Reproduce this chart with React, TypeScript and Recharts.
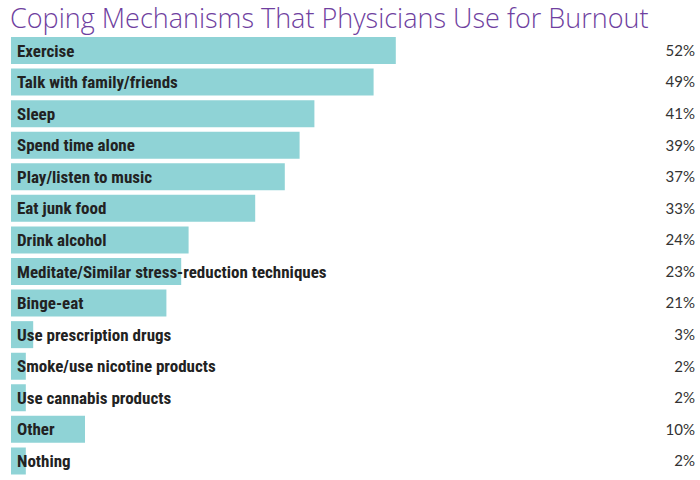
import { BarChart, Bar, XAxis, YAxis, LabelList } from 'recharts';

const categories = [
  'Exercise',
  'Talk with family/friends',
  'Sleep',
  'Spend time alone',
  'Play/listen to music',
  'Eat junk food',
  'Drink alcohol',
  'Meditate/Similar stress-reduction techniques',
  'Binge-eat',
  'Use prescription drugs',
  'Smoke/use nicotine products',
  'Use cannabis products',
  'Other',
  'Nothing',
];

const percents = [52, 49, 41, 39, 37, 33, 24, 23, 21, 3, 2, 2, 10, 2];

const data = categories.map((name, i) => ({ name, value: percents[i] }));

const labelFont = '"Liberation Sans Narrow", "Roboto Condensed", Roboto, sans-serif';

function NameLabel(props: any) {
  const { x, y, height, value } = props;
  return (
    <text
      x={x + 6}
      y={y + height / 2}
      dy="0.36em"
      fill="#222"
      fontFamily={labelFont}
      fontWeight={700}
      fontSize={17}
    >
      {value}
    </text>
  );
}

function PctLabel(props: any) {
  const { y, height, value } = props;
  return (
    <text
      x={695}
      y={y + height / 2}
      dy="0.36em"
      textAnchor="end"
      fill="#333"
      fontFamily="Lato, sans-serif"
      fontSize={15}
    >
      {value}%
    </text>
  );
}

export default function App() {
  return (
    <div style={{ position: 'absolute', left: 0, top: 0, width: 700, height: 480, background: '#fff' }}>
      <div
        style={{
          position: 'absolute',
          left: 10,
          top: 0,
          fontFamily: '"Open Sans", sans-serif',
          fontWeight: 300,
          fontSize: 27,
          color: '#6f3fa0',
          whiteSpace: 'nowrap',
          lineHeight: '35px',
        }}
      >
        Coping Mechanisms That Physicians Use for Burnout
      </div>
      <div style={{ position: 'absolute', left: 0, top: 35 }}>
        <BarChart
          width={700}
          height={445}
          data={data}
          layout="vertical"
          margin={{ top: 0, right: 97, left: 11, bottom: 3 }}
        >
          <XAxis type="number" domain={[0, 80]} hide />
          <YAxis type="category" dataKey="name" hide />
          <Bar dataKey="value" fill="#8fd3d6" barSize={27} isAnimationActive={false}>
            <LabelList dataKey="name" content={NameLabel} />
            <LabelList dataKey="value" content={PctLabel} />
          </Bar>
        </BarChart>
      </div>
    </div>
  );
}
